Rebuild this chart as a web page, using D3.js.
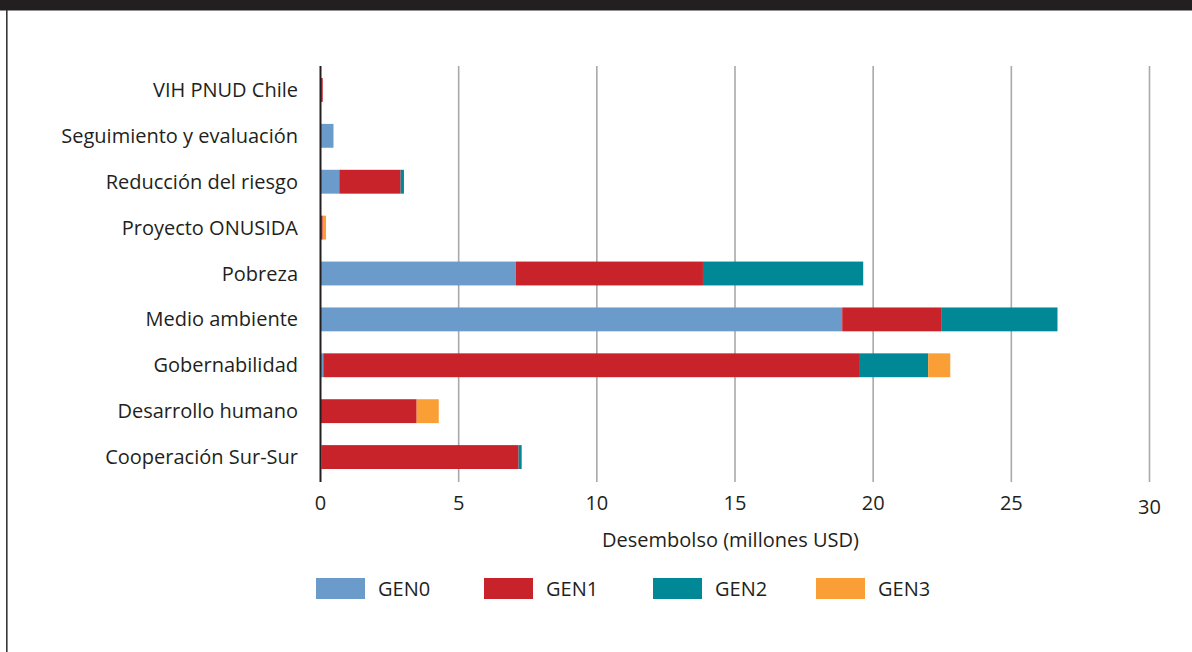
<!DOCTYPE html>
<html>
<head>
<meta charset="utf-8">
<script src="https://cdn.jsdelivr.net/npm/d3@7"></script>
<style>
  html, body { margin: 0; padding: 0; background: #ffffff; }
  svg { display: block; }
  text { font-family: "Open Sans", Lato, sans-serif; fill: #231f20; }
</style>
</head>
<body>
<svg id="chart" width="1192" height="652"></svg>
<script>
// ---- data (top to bottom as displayed) ----
const categories = [
  "VIH PNUD Chile",
  "Seguimiento y evaluación",
  "Reducción del riesgo",
  "Proyecto ONUSIDA",
  "Pobreza",
  "Medio ambiente",
  "Gobernabilidad",
  "Desarrollo humano",
  "Cooperación Sur-Sur"
];
const seriesNames = ["GEN0", "GEN1", "GEN2", "GEN3"];
const gen0 = [0,    0.47, 0.68, 0,    7.07, 18.88, 0.1,   0,    0.04];
const gen1 = [0.08, 0,    2.22, 0.08, 6.77, 3.58,  19.42, 3.48, 7.13];
const gen2 = [0,    0,    0.12, 0,    5.80, 4.21,  2.47,  0,    0.11];
const gen3 = [0,    0,    0,    0.12, 0,    0,     0.80,  0.80, 0];
const xTicks = [0, 5, 10, 15, 20, 25, 30];
const xTitle = "Desembolso (millones USD)";
const colors = ["#6a9bcb", "#c8222a", "#008896", "#f99f36"];

const rows = categories.map((c, i) => ({
  category: c, GEN0: gen0[i], GEN1: gen1[i], GEN2: gen2[i], GEN3: gen3[i]
}));

const svg = d3.select("#chart");
const W = 1192, H = 652;
const FS = 20;

// frame: top bar and left rule
svg.append("rect").attr("x", 0).attr("y", 0).attr("width", W).attr("height", 10.5).attr("fill", "#231f20");
svg.append("rect").attr("x", 6).attr("y", 10).attr("width", 1.6).attr("height", H - 10).attr("fill", "#3a3536");

const x = d3.scaleLinear().domain([0, 30]).range([320.5, 1149.5]);
const y = d3.scaleBand().domain(categories).range([67, 480]).paddingInner(0.48).paddingOuter(0.24);
const gridTop = 66, gridBottom = 482;

// gridlines
svg.append("g").selectAll("line").data(xTicks.filter(t => t > 0)).join("line")
  .attr("x1", d => x(d)).attr("x2", d => x(d))
  .attr("y1", gridTop).attr("y2", gridBottom)
  .attr("stroke", "#a7a9ac").attr("stroke-width", 1.6);

// stacked bars
const stack = d3.stack().keys(seriesNames);
const stacked = stack(rows);
const color = d3.scaleOrdinal().domain(seriesNames).range(colors);

svg.append("g").selectAll("g").data(stacked).join("g")
  .attr("fill", d => color(d.key))
  .selectAll("rect").data(d => d).join("rect")
  .attr("x", d => x(d[0]))
  .attr("width", d => Math.max(0, x(d[1]) - x(d[0])))
  .attr("y", d => y(d.data.category))
  .attr("height", y.bandwidth());

// zero line
svg.append("line")
  .attr("x1", x(0)).attr("x2", x(0)).attr("y1", gridTop).attr("y2", gridBottom)
  .attr("stroke", "#231f20").attr("stroke-width", 2);

// category labels
svg.append("g").selectAll("text").data(categories).join("text")
  .attr("x", x(0) - 22.5)
  .attr("y", d => y(d) + y.bandwidth() / 2 + 7)
  .attr("text-anchor", "end")
  .attr("font-size", FS)
  .text(d => d);

// tick labels
svg.append("g").selectAll("text").data(xTicks).join("text")
  .attr("x", d => x(d))
  .attr("y", (d, i) => i === xTicks.length - 1 ? 514 : 509.5)
  .attr("text-anchor", "middle")
  .attr("font-size", FS)
  .text(d => d);

// axis title
svg.append("text")
  .attr("x", 730.5).attr("y", 546.5)
  .attr("text-anchor", "middle")
  .attr("font-size", FS)
  .text(xTitle);

// legend
const legendX = [316, 484, 653, 816];
const lg = svg.append("g").selectAll("g").data(seriesNames).join("g")
  .attr("transform", (d, i) => `translate(${legendX[i]},578)`);
lg.append("rect").attr("width", 49).attr("height", 21).attr("fill", d => color(d));
lg.append("text").attr("x", 62).attr("y", 18).attr("font-size", FS).text(d => d);
</script>
</body>
</html>
